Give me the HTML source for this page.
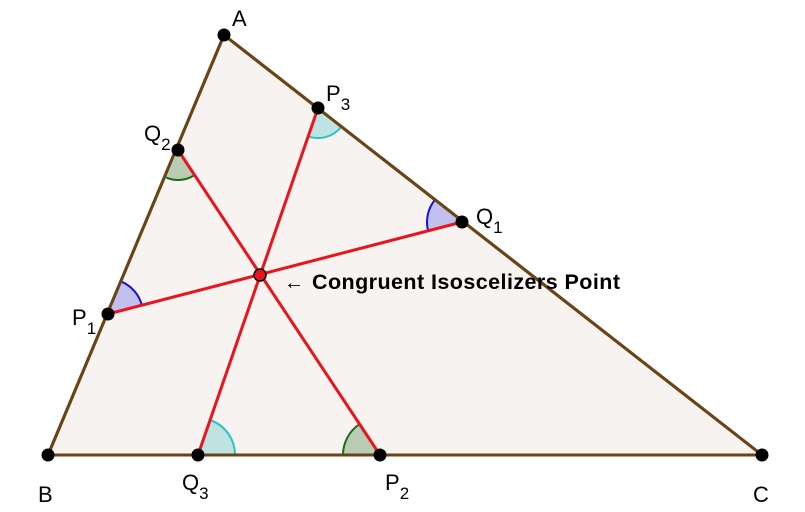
<!DOCTYPE html>
<html><head><style>body{margin:0;background:#fff}svg{display:block}</style></head>
<body>
<svg width="805" height="512" viewBox="0 0 805 512" xmlns="http://www.w3.org/2000/svg" font-family="Liberation Sans, sans-serif">
<polygon points="224,35 48,455 762,455" fill="#f7f3f0" stroke="#6b4416" stroke-width="3" stroke-linejoin="round"/>
<path d="M318,108 L308.2,136.4 A30,30 0 0 0 341.6,126.5 Z" fill="#bfe3e3"/>
<path d="M308.2,136.4 A30,30 0 0 0 341.6,126.5" fill="none" stroke="#2ec4c4" stroke-width="2"/>
<path d="M198,455 L210.1,420 A37,37 0 0 1 235,455 Z" fill="#bfe3e3"/>
<path d="M210.1,420 A37,37 0 0 1 235,455" fill="none" stroke="#2ec4c4" stroke-width="2"/>
<path d="M178,150 L166.2,177.6 A30,30 0 0 0 194.6,175 Z" fill="#b8cdb4"/>
<path d="M166.2,177.6 A30,30 0 0 0 194.6,175" fill="none" stroke="#1a6e1a" stroke-width="2"/>
<path d="M380,455 L343,455 A37,37 0 0 1 359.6,424.1 Z" fill="#b8cdb4"/>
<path d="M343,455 A37,37 0 0 1 359.6,424.1" fill="none" stroke="#1a6e1a" stroke-width="2"/>
<path d="M462,222 L434.5,200.4 A35,35 0 0 0 428.1,230.8 Z" fill="#c2c0ee"/>
<path d="M434.5,200.4 A35,35 0 0 0 428.1,230.8" fill="none" stroke="#1515d0" stroke-width="2"/>
<path d="M108,314 L121.4,281.7 A35,35 0 0 1 141.9,305.2 Z" fill="#c2c0ee"/>
<path d="M121.4,281.7 A35,35 0 0 1 141.9,305.2" fill="none" stroke="#1515d0" stroke-width="2"/>
<line x1="224" y1="35" x2="48" y2="455" stroke="#6b4416" stroke-width="3"/>
<line x1="48" y1="455" x2="762" y2="455" stroke="#6b4416" stroke-width="3"/>
<line x1="224" y1="35" x2="762" y2="455" stroke="#6b4416" stroke-width="3"/>
<g stroke="#e8141e" stroke-width="3">
<line x1="318" y1="108" x2="198" y2="455"/>
<line x1="178" y1="150" x2="380" y2="455"/>
<line x1="108" y1="314" x2="462" y2="222"/>
</g>
<g fill="#000">
<circle cx="224" cy="35" r="6.5"/><circle cx="48" cy="455" r="6.5"/><circle cx="762" cy="455" r="6.5"/>
<circle cx="318" cy="108" r="6.5"/><circle cx="178" cy="150" r="6.5"/><circle cx="462" cy="222" r="6.5"/>
<circle cx="108" cy="314" r="6.5"/><circle cx="198" cy="455" r="6.5"/><circle cx="380" cy="455" r="6.5"/>
</g>
<circle cx="260" cy="275" r="6" fill="#e8141e" stroke="#000" stroke-width="1.5"/>
<g font-size="22" fill="#000">
<text x="232" y="26">A</text>
<text x="38" y="502">B</text>
<text x="753" y="502">C</text>
<text x="326" y="101">P<tspan font-size="17" dy="9">3</tspan></text>
<text x="144" y="141">Q<tspan font-size="17" dy="9">2</tspan></text>
<text x="476" y="224">Q<tspan font-size="17" dy="9">1</tspan></text>
<text x="72" y="325">P<tspan font-size="17" dy="9">1</tspan></text>
<text x="182" y="490">Q<tspan font-size="17" dy="9">3</tspan></text>
<text x="385" y="490">P<tspan font-size="17" dy="9">2</tspan></text>
</g>
<text x="284" y="289" font-size="20" font-weight="bold">←</text>
<text x="312" y="289" font-size="21.5" font-weight="bold" textLength="308">Congruent Isoscelizers Point</text>
</svg>
</body></html>
